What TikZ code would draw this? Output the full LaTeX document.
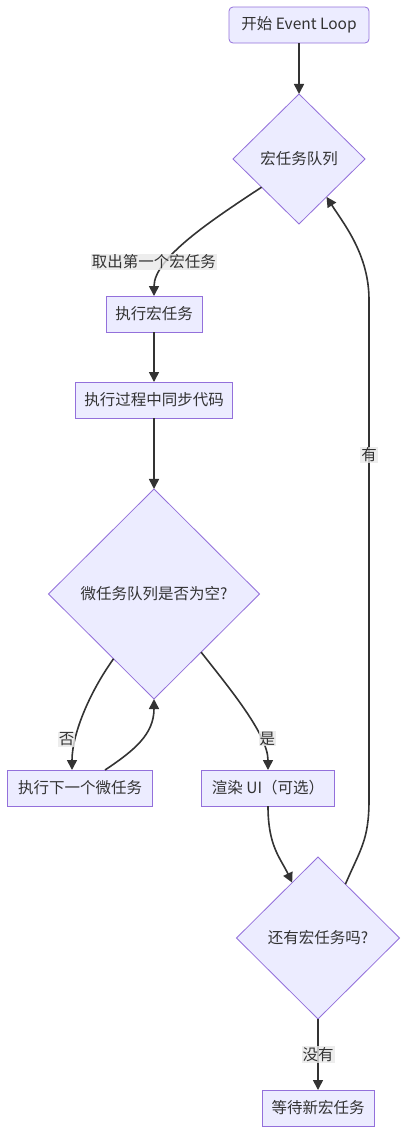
\documentclass[tikz,border=0pt]{standalone}
\usepackage{fontspec}
\setmainfont{Noto Sans CJK SC}
\usepackage{xcolor}
\usepackage{tikz}
\usetikzlibrary{arrows.meta,shapes.geometric}
\definecolor{mmfill}{HTML}{ECECFF}
\definecolor{mmstroke}{HTML}{9370DB}
\definecolor{mmline}{HTML}{333333}
\definecolor{mmlabel}{HTML}{E8E8E8}
\newcommand{\mmfont}{\fontsize{15.5}{18}\selectfont}
\tikzset{
  box/.style={draw=mmstroke, fill=mmfill, line width=0.8pt, minimum height=36pt, inner sep=0pt, outer sep=0pt, text=mmline, font=\mmfont},
  startbox/.style={box, rounded corners=4pt},
  decision/.style={diamond, aspect=1, draw=mmstroke, fill=mmfill, line width=0.8pt, inner sep=0pt, outer sep=0pt, text=mmline, font=\mmfont},
  line/.style={-{Triangle[length=10pt,width=10pt]}, line width=1.6pt, draw=mmline},
  lbl/.style={fill=mmlabel, fill opacity=0.8, text opacity=1, text=mmline, inner sep=1pt, font=\mmfont}
}

\begin{document}
\begin{tikzpicture}[x=1pt, y=-1pt]
  \useasboundingbox (0,0) rectangle (408,1135);
  \node[startbox, minimum width=140pt] (start) at (299,25) {开始 Event Loop};
  \node[decision, minimum width=132pt, minimum height=130pt] (macroq) at (299,159) {宏任务队列};
  \node[box, minimum width=96pt] (runmacro) at (154,314) {执行宏任务};
  \node[box, minimum width=157pt] (runsync) at (154,400) {执行过程中同步代码};
  \node[decision, minimum width=211pt, minimum height=210pt] (microq) at (154,594) {微任务队列是否为空?};
  \node[box, minimum width=145pt] (runmicro) at (80,788) {执行下一个微任务};
  \node[box, minimum width=133pt] (render) at (268,788) {渲染 UI（可选）};
  \node[decision, minimum width=163pt, minimum height=162pt] (moremacro) at (318,938) {还有宏任务吗?};
  \node[box, minimum width=112pt] (waitmacro) at (318,1108) {等待新宏任务};

  \draw[line] (start) -- (macroq);
  \draw[line] (macroq.217) .. controls +(-50,33) and +(0,-38) .. (runmacro.north) node[lbl, pos=0.7, xshift=-14pt] {取出第一个宏任务};
  \draw[line] (runmacro) -- (runsync);
  \draw[line] (runsync) -- (microq);
  \draw[line] (microq.238) .. controls +(-25,35) and +(0,-35) .. ([xshift=-8pt]runmicro.north) node[lbl, pos=0.72, xshift=-9pt] {否};
  \draw[line] ([xshift=25pt]runmicro.north) .. controls +(30,-20) and +(0,35) .. (microq.south);
  \draw[line] (microq.309) .. controls +(30,38) and +(0,-35) .. (render.north) node[lbl, pos=0.72, xshift=7pt] {是};
  \draw[line] (render.south) .. controls +(0,40) and +(-12,-25) .. (moremacro.115);
  \draw[line] (moremacro.63) .. controls +(15,-35) and +(0,40) .. (369,800) -- (369,300) node[lbl, pos=0.69] {有} .. controls +(0,-45) and +(18,28) .. (macroq.306);
  \draw[line] (moremacro) -- (waitmacro) node[lbl, midway] {没有};
\end{tikzpicture}
\end{document}
